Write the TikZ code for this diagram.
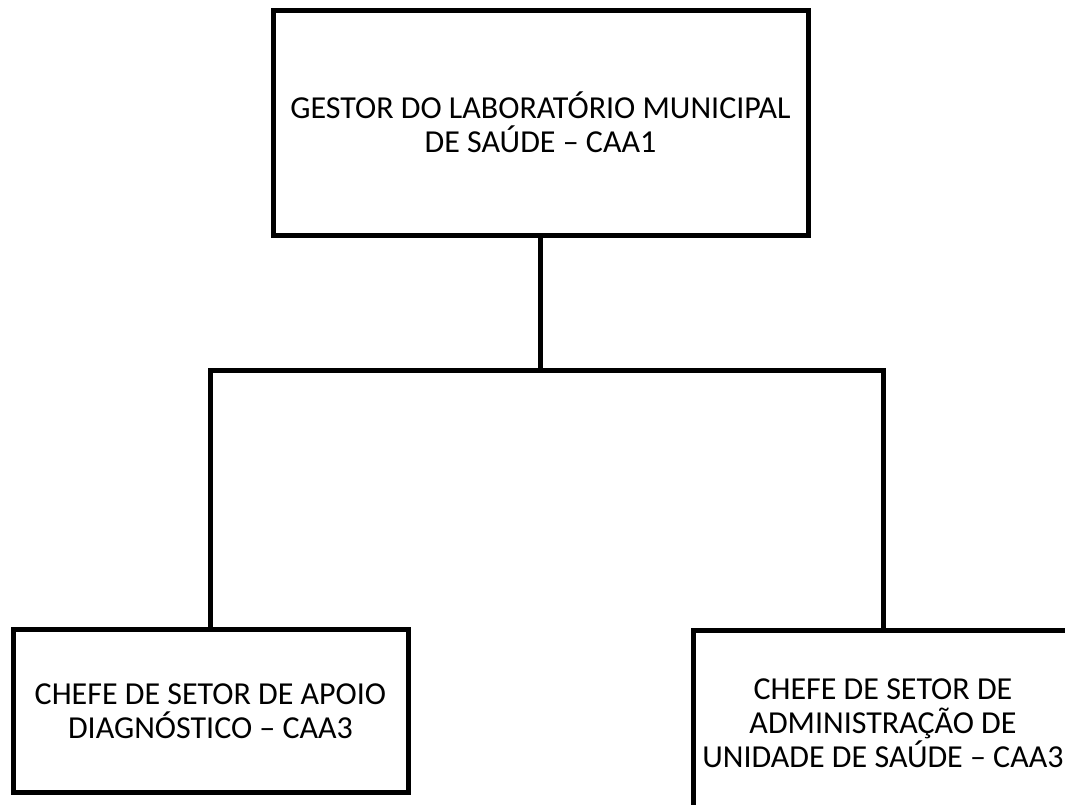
\documentclass[tikz,border=0pt]{standalone}
\usepackage{fontspec}
\setmainfont{Carlito}
\usetikzlibrary{positioning}

\begin{document}
\begin{tikzpicture}[x=1pt,y=-1pt,
		box/.style={draw, line width=5pt, align=center, inner sep=0pt,
			font=\fontsize{32}{34}\selectfont},
		link/.style={line width=5pt}]
		\useasboundingbox (0,0) rectangle (1065,804);
		
		\node (gestor) [box, minimum width=535pt, minimum height=225pt] at (540.5,122.5)
			{GESTOR DO LABORATÓRIO MUNICIPAL\\DE SAÚDE – CAA1};
		
		\node (apoio)  [box, minimum width=395pt, minimum height=163pt] at (210.5,711)
			{CHEFE DE SETOR DE APOIO\\DIAGNÓSTICO – CAA3};
		\node (admin)  [box, minimum width=380pt, minimum height=186pt] at (883,723)
			{CHEFE DE SETOR DE\\ADMINISTRAÇÃO DE\\UNIDADE DE SAÚDE – CAA3};
		
		\coordinate (split) at (540.5,370);
		
		\draw [link] (gestor) -- (split);
		\draw [link] (apoio) |- (split) -| (admin);
	\end{tikzpicture}
\end{document}
